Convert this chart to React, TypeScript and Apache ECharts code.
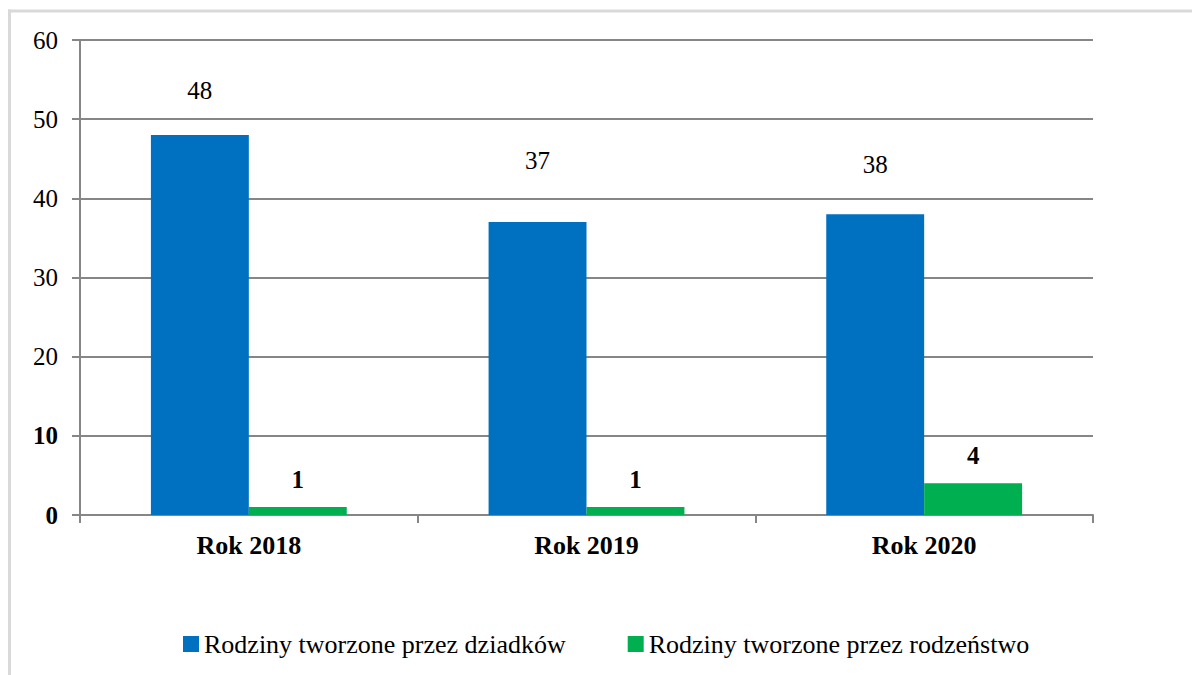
import React, { useEffect, useRef } from "react";
import * as echarts from "echarts";

const categories = ["Rok 2018", "Rok 2019", "Rok 2020"];
const grandparentsFamilies = [48, 37, 38];
const siblingsFamilies = [1, 1, 4];
const seriesNames = ["Rodziny tworzone przez dziadków", "Rodziny tworzone przez rodzeństwo"];
const yMin = 0;
const yMax = 60;
const yInterval = 10;

// label distances (style only)
const blueLabelDist = [32, 49, 37];
const greenLabelDist = [15, 15, 15];

const FONT = "'Liberation Serif', 'Times New Roman', serif";

export default function App() {
  const ref = useRef<HTMLDivElement>(null);
  useEffect(() => {
    document.body.style.margin = "0";
    const chart = echarts.init(ref.current!, null, { renderer: "svg" });
    chart.setOption({
      animation: false,
      backgroundColor: "#ffffff",
      textStyle: { fontFamily: FONT, color: "#000" },
      grid: { left: 80, right: 99, top: 40, bottom: 160, containLabel: false },
      legend: {
        left: 178,
        top: 626,
        itemWidth: 16,
        itemHeight: 16,
        itemGap: 62,
        icon: "rect",
        textStyle: { fontFamily: FONT, fontSize: 26, color: "#000" },
        data: seriesNames,
      },
      xAxis: {
        type: "category",
        data: categories,
        axisLine: { lineStyle: { color: "#868686", width: 2 } },
        axisTick: { show: true, length: 8, alignWithLabel: false, lineStyle: { color: "#868686", width: 2 } },
        axisLabel: { fontFamily: FONT, fontSize: 26, fontWeight: "bold", color: "#000", margin: 17 },
      },
      yAxis: {
        type: "value",
        min: yMin,
        max: yMax,
        interval: yInterval,
        axisLine: { show: true, lineStyle: { color: "#868686", width: 2 } },
        axisTick: { show: true, length: 8, lineStyle: { color: "#868686", width: 2 } },
        splitLine: { show: true, lineStyle: { color: "#868686", width: 2 } },
        axisLabel: {
          fontFamily: FONT,
          fontSize: 25,
          color: "#000",
          margin: 22,
          formatter: (v: number) => (v <= 10 ? `{b|${v}}` : `${v}`),
          rich: { b: { fontFamily: FONT, fontSize: 25, fontWeight: "bold", color: "#000" } },
        },
      },
      series: [
        {
          name: seriesNames[0],
          type: "bar",
          barGap: "0%",
          barCategoryGap: "42%",
          itemStyle: { color: "#0070C0" },
          data: grandparentsFamilies.map((v, i) => ({
            value: v,
            label: { distance: blueLabelDist[i] },
          })),
          label: { show: true, position: "top", fontFamily: FONT, fontSize: 25, color: "#000" },
        },
        {
          name: seriesNames[1],
          type: "bar",
          barGap: "0%",
          barCategoryGap: "42%",
          itemStyle: { color: "#00B050" },
          data: siblingsFamilies.map((v, i) => ({
            value: v,
            label: { distance: greenLabelDist[i] },
          })),
          label: { show: true, position: "top", fontFamily: FONT, fontSize: 25, fontWeight: "bold", color: "#000" },
        },
      ],
      graphic: [
        { type: "line", shape: { x1: 8, y1: 11, x2: 1192, y2: 11 }, style: { stroke: "#d9d9d9", lineWidth: 3 } },
        { type: "line", shape: { x1: 9.5, y1: 9.5, x2: 9.5, y2: 675 }, style: { stroke: "#d9d9d9", lineWidth: 3 } },
      ],
    });
    return () => chart.dispose();
  }, []);
  return <div ref={ref} style={{ width: 1192, height: 675 }} />;
}
